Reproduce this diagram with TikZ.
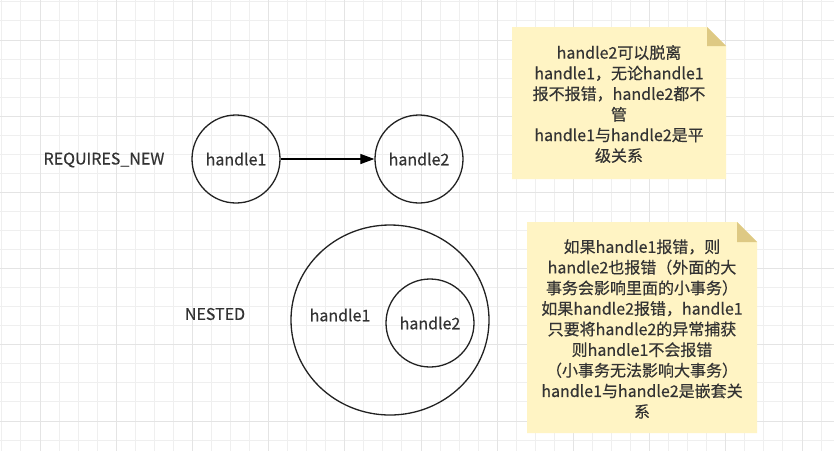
\documentclass[tikz,border=0pt]{standalone}
\usepackage{fontspec}
\setmainfont{Noto Sans CJK SC}[FakeBold=0.4]
\usetikzlibrary{shapes.geometric,arrows.meta,backgrounds,calc}
\definecolor{gridminor}{HTML}{EFEFEF}
\definecolor{gridmajor}{HTML}{E4E4E4}
\definecolor{notefill}{HTML}{FFF4C4}
\definecolor{notefold}{HTML}{DEC984}
\definecolor{txt}{HTML}{333333}
\definecolor{stroke}{HTML}{222222}
\tikzset{
  lbl/.style={text=txt, font=\fontsize{16}{20.7}\selectfont, inner sep=0},
  circ/.style={circle, draw=stroke, line width=1.3pt, minimum size=88pt, inner sep=0, text=txt, font=\fontsize{16}{20.7}\selectfont},
  notetext/.style={text=txt, font=\fontsize{16}{20.6}\selectfont, align=center, inner sep=0},
}
\begin{document}
\begin{tikzpicture}[x=1pt,y=-1pt]
\useasboundingbox (0,0) rectangle (834,451);
\begin{scope}[on background layer]
\fill[white] (0,0) rectangle (834,451);
\foreach \i in {0,...,44} {
  \pgfmathsetmacro{\p}{1.9+19.05*\i}
  \draw[gridminor, line width=1pt] (\p,0) -- (\p,451);
  \draw[gridminor, line width=1pt] (0,\p) -- (834,\p);
}
\foreach \i in {0,...,10} {
  \pgfmathsetmacro{\p}{40+76.2*\i}
  \draw[gridmajor, line width=1pt] (\p,0) -- (\p,451);
  \draw[gridmajor, line width=1pt] (0,\p) -- (834,\p);
}
\end{scope}
% labels
\node[lbl] (rn) at (104,160) {REQUIRES\_NEW};
\node[lbl] (ns) at (215,314) {NESTED};
% requires_new circles
\node[circ] (a1) at (236,159) {handle1};
\node[circ] (a2) at (419,159) {handle2};
\draw[stroke, line width=1.2pt, -{Triangle[length=14pt,width=10pt]}] (a1) -- (a2);
% nested
\node[ellipse, draw=stroke, line width=1.3pt, minimum width=198pt, minimum height=190pt, inner sep=0] (b1) at (390,320) {};
\node[lbl] (b1t) at (340,315) {handle1};
\node[circ] (b2) at (430,323) {handle2};
% notes
\node[notetext] (n1) at (619,104) {handle2可以脱离\\handle1，无论handle1\\报不报错，handle2都不\\管\\handle1与handle2是平\\级关系};
\node[notetext] (n2) at (642,329) {如果handle1报错，则\\handle2也报错（外面的大\\事务会影响里面的小事务）\\如果handle2报错，handle1\\只要将handle2的异常捕获\\则handle1不会报错\\（小事务无法影响大事务）\\handle1与handle2是嵌套关\\系};
\begin{scope}[on background layer]
\coordinate (n1a) at (512,27);
\coordinate (n1b) at (726,179);
\fill[notefill] (n1a) -- (707,27) -- (726,46) -- (n1b) -- (512,179) -- cycle;
\fill[notefold] (707,27) -- (707,46) -- (726,46) -- cycle;
\coordinate (n2a) at (527,222);
\coordinate (n2b) at (757,433);
\fill[notefill] (n2a) -- (737,222) -- (757,242) -- (n2b) -- (527,433) -- cycle;
\fill[notefold] (737,222) -- (737,242) -- (757,242) -- cycle;
\end{scope}
\end{tikzpicture}
\end{document}
